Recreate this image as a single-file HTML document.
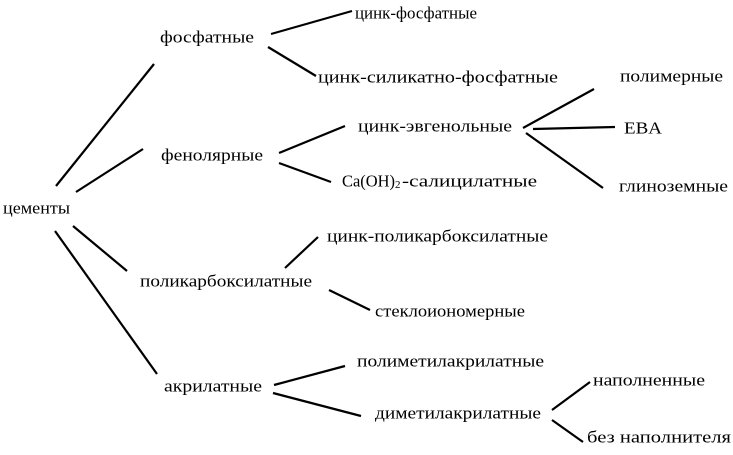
<!DOCTYPE html>
<html><head><meta charset="utf-8"><style>
html,body{margin:0;padding:0;background:#fff;}
svg text{font-family:"Liberation Serif","Noto Serif CJK SC",serif;font-size:17px;fill:#000;dominant-baseline:central;}
</style></head><body>
<svg width="733" height="450" viewBox="0 0 733 450" xmlns="http://www.w3.org/2000/svg">
<g stroke="#000" stroke-width="2.2" stroke-linecap="butt">
<line x1="56" y1="186" x2="154" y2="64"/>
<line x1="76" y1="192" x2="143" y2="149"/>
<line x1="73" y1="226" x2="127" y2="271"/>
<line x1="55" y1="231" x2="157" y2="374"/>
<line x1="271" y1="34" x2="352" y2="11"/>
<line x1="268" y1="47" x2="316" y2="76"/>
<line x1="279" y1="153" x2="345" y2="126"/>
<line x1="279" y1="163" x2="331" y2="182"/>
<line x1="523" y1="128" x2="594" y2="89"/>
<line x1="533" y1="129" x2="615" y2="127"/>
<line x1="526" y1="133" x2="603" y2="188"/>
<line x1="285" y1="268" x2="318" y2="237"/>
<line x1="329" y1="290" x2="370" y2="310"/>
<line x1="274" y1="385" x2="345" y2="366"/>
<line x1="273" y1="393" x2="361" y2="416"/>
<line x1="552" y1="410" x2="590" y2="382"/>
<line x1="552" y1="420" x2="583" y2="442"/>
</g>
<text x="3" y="208" textLength="67" lengthAdjust="spacingAndGlyphs">цементы</text>
<text x="160" y="37" textLength="94" lengthAdjust="spacingAndGlyphs">фосфатные</text>
<text x="355" y="13" textLength="122" lengthAdjust="spacingAndGlyphs">цинк-фосфатные</text>
<text x="318" y="77" textLength="240" lengthAdjust="spacingAndGlyphs">цинк-силикатно-фосфатные</text>
<text x="161" y="155" textLength="102" lengthAdjust="spacingAndGlyphs">фенолярные</text>
<text x="358" y="126" textLength="154" lengthAdjust="spacingAndGlyphs">цинк-эвгенольные</text>
<text x="342" y="181" textLength="53" lengthAdjust="spacingAndGlyphs">Ca(OH)</text>
<text x="395" y="185" style="font-size:11px">2</text>
<text x="402" y="181" textLength="135" lengthAdjust="spacingAndGlyphs">-салицилатные</text>
<text x="620" y="76" textLength="103" lengthAdjust="spacingAndGlyphs">полимерные</text>
<text x="624" y="128" textLength="38" lengthAdjust="spacingAndGlyphs">EBA</text>
<text x="619" y="186" textLength="109" lengthAdjust="spacingAndGlyphs">глиноземные</text>
<text x="327" y="236" textLength="221" lengthAdjust="spacingAndGlyphs">цинк-поликарбоксилатные</text>
<text x="140" y="281" textLength="172" lengthAdjust="spacingAndGlyphs">поликарбоксилатные</text>
<text x="375" y="311" textLength="150" lengthAdjust="spacingAndGlyphs">стеклоиономерные</text>
<text x="164" y="386" textLength="98" lengthAdjust="spacingAndGlyphs">акрилатные</text>
<text x="357" y="361" textLength="187" lengthAdjust="spacingAndGlyphs">полиметилакрилатные</text>
<text x="375" y="413" textLength="166" lengthAdjust="spacingAndGlyphs">диметилакрилатные</text>
<text x="593" y="380" textLength="112" lengthAdjust="spacingAndGlyphs">наполненные</text>
<text x="587" y="437" textLength="144" lengthAdjust="spacingAndGlyphs">без наполнителя</text>
</svg>
</body></html>
